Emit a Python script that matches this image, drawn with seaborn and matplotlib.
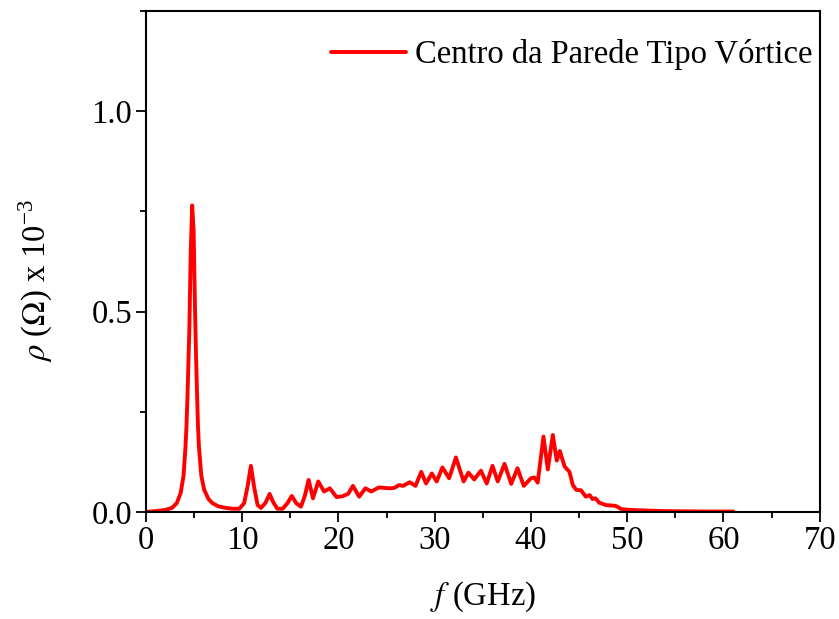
import numpy as np
import pandas as pd
import matplotlib
matplotlib.use("Agg")
import matplotlib.pyplot as plt
from matplotlib.ticker import MultipleLocator, FormatStrFormatter
import seaborn as sns

# Resistivity spectrum at the vortex-wall centre
freq_ghz = [
    0.0, 1.0, 2.0, 2.7, 3.2, 3.6, 3.9, 4.1, 4.2, 4.3, 4.5, 4.65, 4.8, 4.95,
    5.1, 5.2, 5.3, 5.4, 5.5, 5.75, 6.05, 6.5, 6.9, 7.5, 8.3, 9.0, 9.7, 10.2,
    10.55, 10.9, 11.25, 11.6, 11.95, 12.4, 12.85, 13.2, 13.65, 14.2, 14.7,
    15.15, 15.6, 16.1, 16.5, 16.9, 17.35, 17.9, 18.5, 19.1, 19.8, 20.4, 21.0,
    21.5, 22.15, 22.8, 23.4, 24.2, 25.3, 25.8, 26.3, 26.7, 27.4, 28.0, 28.6,
    29.1, 29.7, 30.2, 30.8, 31.5, 32.2, 33.0, 33.5, 34.1, 34.8, 35.4, 36.0,
    36.55, 37.25, 37.95, 38.6, 39.25, 40.0, 40.35, 40.7, 41.3, 41.75, 42.27,
    42.68, 43.0, 43.5, 44.0, 44.35, 44.7, 45.2, 45.7, 46.1, 46.4, 46.7, 47.1,
    47.8, 48.4, 48.8, 49.4, 50.2, 51.3, 52.5, 54.0, 56.0, 58.0, 61.0,
]
rho_e3 = [
    0.0, 0.002, 0.005, 0.010, 0.022, 0.047, 0.090, 0.160, 0.210, 0.280, 0.450,
    0.650, 0.765, 0.700, 0.500, 0.390, 0.300, 0.215, 0.163, 0.090, 0.055,
    0.032, 0.022, 0.014, 0.010, 0.008, 0.008, 0.022, 0.063, 0.115, 0.060,
    0.017, 0.010, 0.022, 0.045, 0.025, 0.008, 0.008, 0.022, 0.040, 0.022,
    0.013, 0.040, 0.080, 0.034, 0.076, 0.051, 0.059, 0.037, 0.039, 0.045,
    0.065, 0.038, 0.059, 0.051, 0.061, 0.059, 0.060, 0.067, 0.065, 0.074,
    0.065, 0.100, 0.071, 0.096, 0.076, 0.111, 0.084, 0.136, 0.076, 0.098,
    0.081, 0.103, 0.071, 0.115, 0.076, 0.120, 0.070, 0.109, 0.065, 0.084,
    0.086, 0.073, 0.188, 0.106, 0.192, 0.128, 0.152, 0.113, 0.100, 0.067,
    0.055, 0.054, 0.038, 0.042, 0.032, 0.034, 0.023, 0.017, 0.016, 0.015,
    0.007, 0.005, 0.004, 0.003, 0.002, 0.0015, 0.001, 0.001,
]
series_label = "Centro da Parede Tipo Vórtice"

df = pd.DataFrame({"f": freq_ghz, "rho": rho_e3})

sns.set_theme(style="ticks")
plt.rcParams["font.family"] = ["Liberation Serif", "DejaVu Serif"]
plt.rcParams["mathtext.fontset"] = "stix"
plt.rcParams["text.color"] = "black"
plt.rcParams["axes.labelcolor"] = "black"

FS = 23.5

fig = plt.figure(figsize=(8.39, 6.19), dpi=100)
ax = fig.add_axes([0.174, 0.173, 0.803, 0.809])

sns.lineplot(data=df, x="f", y="rho", ax=ax, color="#ff0000", linewidth=2.8,
             sort=False, estimator=None, label=series_label)

ax.set_xlim(0, 70)
ax.set_ylim(0, 1.25)
ax.xaxis.set_major_locator(MultipleLocator(10))
ax.xaxis.set_minor_locator(MultipleLocator(5))
ax.yaxis.set_major_locator(MultipleLocator(0.5))
ax.yaxis.set_minor_locator(MultipleLocator(0.25))
ax.yaxis.set_major_formatter(FormatStrFormatter("%.1f"))

for s in ax.spines.values():
    s.set_visible(True)
    s.set_linewidth(1.5)
    s.set_color("black")
ax.tick_params(which="major", direction="out", length=7, width=1.3,
               labelsize=FS, colors="black", top=False, right=False, pad=3)
ax.tick_params(which="minor", direction="out", length=4, width=1.3,
               colors="black", top=False, right=False)

ax.set_xlabel(r"$f$ (GHz)", fontsize=FS, labelpad=17)
ax.set_ylabel(r"$\rho$ ($\Omega$) x 10$^{\mathregular{-3}}$", fontsize=FS)
ax.yaxis.set_label_coords(-0.136, 0.463)

leg = ax.legend(loc="upper right", frameon=False, fontsize=FS,
                handlelength=2.3, handletextpad=0.25, borderaxespad=0.1,
                bbox_to_anchor=(1.013, 0.976))
for t in leg.get_texts():
    t.set_color("black")

fig.savefig("out.png", dpi=100)
